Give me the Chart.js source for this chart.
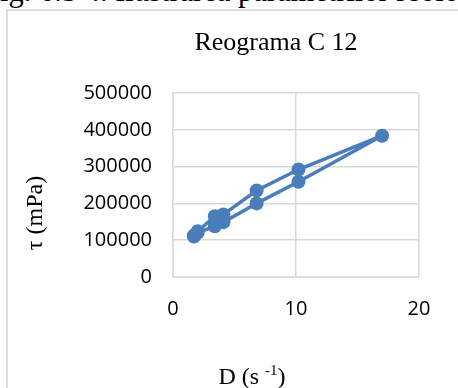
<!DOCTYPE html>
<html>
<head>
<meta charset="utf-8">
<script src="https://cdn.jsdelivr.net/npm/chart.js@4/dist/chart.umd.min.js"></script>
<style>
    html, body { margin: 0; padding: 0; background: #fff; overflow: hidden; }
    #wrap { position: relative; width: 458px; height: 388px; }
    #caption {
        position: absolute; left: -17px; top: -26px; white-space: nowrap;
        font: 30.5px "Liberation Serif", "Times New Roman", serif; color: #000;
    }
    #frame {
        position: absolute; left: 6px; top: 9px; width: 480px; height: 420px;
        border: 2px solid #dedede; box-sizing: border-box;
    }
    #reo { position: absolute; left: 0; top: 0; }
</style>
</head>
<body>
<div id="wrap">
    <div id="caption">Fig. 6.5 4. Ilustrarea parametrilor reologici</div>
    <div id="frame"></div>
    <canvas id="reo" width="458" height="388"></canvas>
</div>
<script>
// viteza de forfecare D (s-1): urcare apoi coborare
const shearRate = [1.7, 2.0, 3.4, 4.1, 6.8, 10.2, 17.0, 10.2, 6.8, 4.1, 3.4, 2.0, 1.7];
// tensiunea tau (mPa)
const shearStress = [113000, 120000, 138000, 149000, 200000, 259000, 384000,
                     292000, 235000, 170000, 165000, 124000, 110000];
const xTicks = [0, 10, 20];
const yTicks = [0, 100000, 200000, 300000, 400000, 500000];

const chartTitle = "Reograma C 12";
const yTitle = "τ (mPa)";

const BLUE = "#4a7ebb";
const GRID = "#d9d9d9";

// titlurile (pozitionate ca in Excel, nu centrate pe zona graficului)
const titles = {
    id: "titles",
    afterDraw(chart) {
        const ctx = chart.ctx;
        const serif = '"Liberation Serif", serif';

        ctx.save();
        ctx.fillStyle = "#000";
        ctx.textAlign = "center";
        ctx.textBaseline = "middle";
        ctx.font = "26px " + serif;
        ctx.fillText(chartTitle, 276, 43);

        // y
        ctx.font = "24px " + serif;
        ctx.translate(36, 213);
        ctx.rotate(-Math.PI / 2);
        ctx.fillText(yTitle, 0, 0);
        ctx.restore();

        // x: D (s -1) cu exponent
        ctx.save();
        ctx.fillStyle = "#000";
        ctx.textBaseline = "alphabetic";
        const parts = [["D (s ", "24px " + serif, 0], ["-1", "15px " + serif, -9], [")", "24px " + serif, 0]];
        let w = 0;
        parts.forEach(p => { ctx.font = p[1]; w += ctx.measureText(p[0]).width; });
        let x = 252 - w / 2;
        parts.forEach(p => {
            ctx.font = p[1];
            ctx.fillText(p[0], x, 384 + p[2]);
            x += ctx.measureText(p[0]).width;
        });
        ctx.restore();
    }
};

new Chart(document.getElementById("reo"), {
    type: "scatter",
    data: {
        datasets: [{
            data: shearRate.map((d, i) => ({ x: d, y: shearStress[i] })),
            showLine: true,
            borderColor: BLUE,
            backgroundColor: BLUE,
            borderWidth: 3.5,
            pointRadius: 7,
            pointBorderWidth: 0,
            tension: 0
        }]
    },
    options: {
        responsive: false,
        animation: false,
        layout: { padding: { left: 0, right: 39, top: 93, bottom: 0 } },
        plugins: {
            legend: { display: false },
            tooltip: { enabled: false },
            title: { display: false }
        },
        scales: {
            x: {
                type: "linear",
                min: 0, max: 20,
                afterBuildTicks: s => { s.ticks = xTicks.map(v => ({ value: v })); },
                afterFit: s => { s.height = 111; },
                grid: { color: GRID, lineWidth: 1.5, drawTicks: false },
                border: { color: GRID, width: 1.5 },
                ticks: {
                    color: "#000",
                    padding: 20,
                    maxRotation: 0,
                    font: { family: '"Open Sans", sans-serif', size: 20 }
                }
            },
            y: {
                type: "linear",
                min: 0, max: 500000,
                afterBuildTicks: s => { s.ticks = yTicks.map(v => ({ value: v })); },
                afterFit: s => { s.width = 173; },
                grid: { color: GRID, lineWidth: 1.5, drawTicks: false },
                border: { color: GRID, width: 1.5 },
                ticks: {
                    color: "#000",
                    padding: 21,
                    font: { family: '"Open Sans", sans-serif', size: 20 },
                    callback: v => String(v)
                }
            }
        }
    },
    plugins: [titles]
});
</script>
</body>
</html>
